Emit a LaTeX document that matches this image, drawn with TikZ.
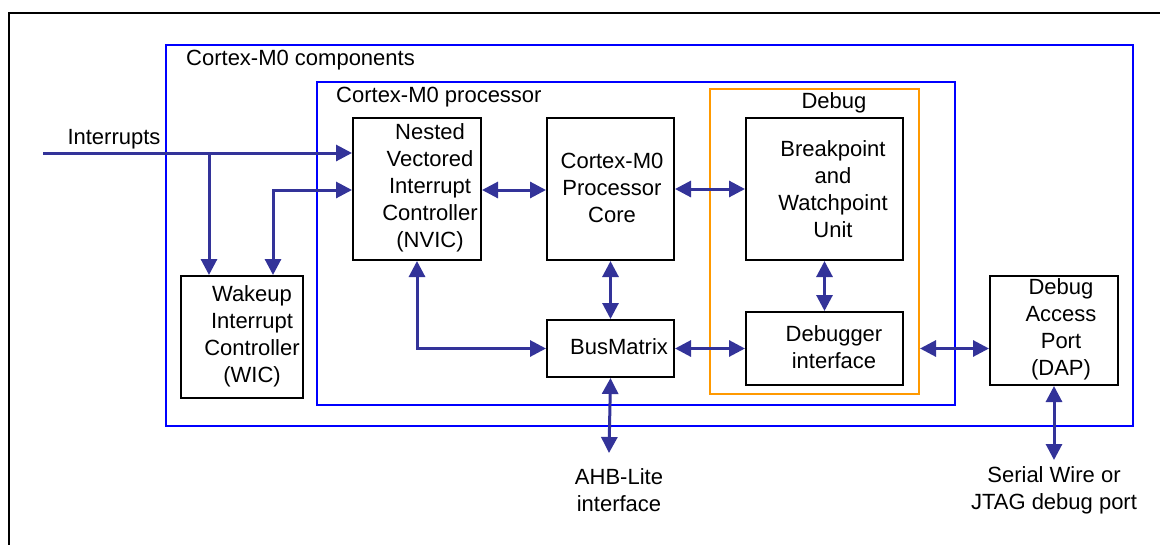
\documentclass[tikz,border=0pt]{standalone}
\usepackage{fontspec}
\setmainfont{Liberation Sans}
\usetikzlibrary{arrows.meta}
\definecolor{arrblue}{HTML}{333399}
\definecolor{boxblue}{HTML}{0000FF}
\definecolor{dbgorange}{HTML}{FF9900}
\begin{document}
\begin{tikzpicture}[x=1pt,y=-1pt,
  every node/.style={font=\fontsize{22}{27}\selectfont},
  blk/.style={draw=black,line width=2pt,anchor=north west,inner sep=0pt},
  grp/.style={draw=boxblue,line width=1.6pt,anchor=north west,inner sep=0pt},
  txt/.style={align=center,inner sep=0pt},
  conn/.style={draw=arrblue,line width=3pt,>={Triangle[length=16pt,width=16pt]}}]
\useasboundingbox (0,0) rectangle (1160,544);
\fill[white] (0,0) rectangle (1160,544);
% frame
\draw[line width=2.5pt] (9,560) -- (9,13) -- (1170,13);
% groups
\node[grp,minimum width=967pt,minimum height=381pt] (comp) at (165,44) {};
\node[grp,minimum width=638pt,minimum height=323pt] (proc) at (316,81) {};
\node[draw=dbgorange,line width=2pt,anchor=north west,inner sep=0pt,minimum width=209pt,minimum height=305pt] (dbg) at (709,88) {};
\node[anchor=west,inner sep=0pt] (compt) at (186,60) {Cortex-M0 components};
\node[anchor=west,inner sep=0pt] (proct) at (336,97) {Cortex-M0 processor};
\node[txt] (dbgt) at (834,103) {Debug};
% blocks
\node[blk,minimum width=128pt,minimum height=142pt] (nvic) at (352,117) {};
\node[blk,minimum width=127pt,minimum height=142pt] (core) at (546,117) {};
\node[blk,minimum width=157pt,minimum height=142pt] (bwu) at (745,117) {};
\node[blk,minimum width=122pt,minimum height=122pt] (wic) at (180,275) {};
\node[blk,minimum width=127pt,minimum height=57pt] (bus) at (546,319) {};
\node[blk,minimum width=157pt,minimum height=73pt] (di) at (745,311) {};
\node[blk,minimum width=128pt,minimum height=109pt] (dap) at (989,275) {};
% texts
\node[txt] (nvict) at (430,188) {Nested\\Vectored\\Interrupt\\Controller\\(NVIC)};
\node[txt] (coret) at (612,188) {Cortex-M0\\Processor\\Core};
\node[txt] (bwut) at (833,189) {Breakpoint\\and\\Watchpoint\\Unit};
\node[txt] (wict) at (252,336) {Wakeup\\Interrupt\\Controller\\(WIC)};
\node[txt] (bust) at (619,347) {BusMatrix};
\node[txt] (dit) at (834,347) {Debugger\\interface};
\node[txt] (dapt) at (1061,329) {Debug\\Access\\Port\\(DAP)};
\node[txt] (intt) at (114,139) {Interrupts};
\node[txt] (ahbt) at (619,490) {AHB-Lite\\interface};
\node[txt] (swt) at (1054,490) {Serial Wire or\\JTAG debug port};
% connector points
\coordinate (intin) at (43,153);
\coordinate (br1) at (209,153);
\coordinate (w2) at (273,190);
\coordinate (ahbend) at (609,453);
\coordinate (swend) at (1054,460);
% connectors
\draw[conn,->] (intin) -- (intin -| nvic.west);
\draw[conn,->] (br1) -- (br1 |- wic.north);
\draw[conn,<->] (w2 |- wic.north) -- (w2) -- (w2 -| nvic.west);
\draw[conn,<->] (nvic.east |- w2) -- (core.west |- w2);
\draw[conn,<->] (core.east) -- (bwu.west);
\draw[conn,<->] (core.south) -- (bus.north);
\draw[conn,<->] (bwu.south) -- (di.north);
\draw[conn,<->] (bus.east) -- (di.west);
\draw[conn,<->] (dbg.east |- di.west) -- (dap.west |- di.west);
\draw[conn,<->] (nvic.south) |- (bus.west);
\draw[conn,<->] (bus.south) -- (ahbend);
\draw[conn,<->] (dap.south) -- (swend);
\end{tikzpicture}
\end{document}
